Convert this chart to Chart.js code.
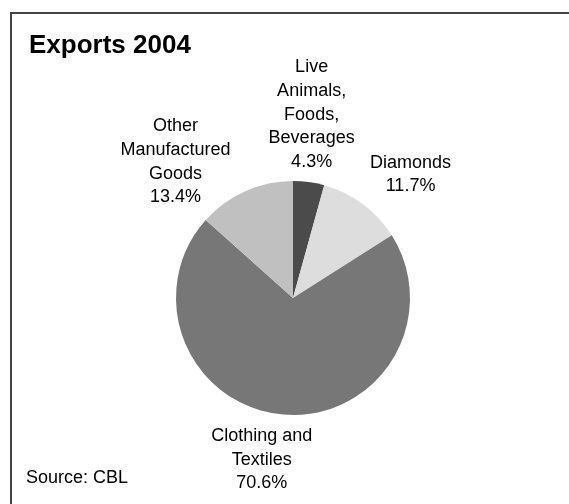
<!DOCTYPE html>
<html>
<head>
<meta charset="utf-8">
<title>Exports 2004</title>
<script src="https://cdn.jsdelivr.net/npm/chart.js@4/dist/chart.umd.min.js"></script>
<style>
  html, body { margin: 0; padding: 0; background: #fff; }
  #wrap { position: relative; width: 569px; height: 504px; }
</style>
</head>
<body>
<div id="wrap"><canvas id="exportsChart"></canvas></div>
<script>
// export categories (label lines) and their share of total, in percent
const categories = [
  ['Live', 'Animals,', 'Foods,', 'Beverages'],
  ['Diamonds'],
  ['Clothing and', 'Textiles'],
  ['Other', 'Manufactured', 'Goods']
];
const shares = [4.3, 11.7, 70.6, 13.4];

const titleText = 'Exports 2004';
const sourceText = 'Source: CBL';

const sliceColors = ['#4b4b4b', '#dddddd', '#777777', '#c0c0c0'];
const FONT = '"Liberation Sans", Arial, Helvetica, sans-serif';

// small manual shifts so the outside labels sit where Excel put them
const labelNudge = [[-4, -1], [19, -4], [-17, 2], [-44, 21]];

const frameAndText = {
  id: 'frameAndText',
  afterDraw(chart) {
    const ctx = chart.ctx;
    ctx.save();
    // frame, open to the right and bottom
    ctx.strokeStyle = '#444';
    ctx.lineWidth = 2;
    ctx.beginPath();
    ctx.moveTo(11, chart.height + 5);
    ctx.lineTo(11, 13);
    ctx.lineTo(chart.width + 5, 13);
    ctx.stroke();

    ctx.fillStyle = '#000';
    ctx.textAlign = 'left';
    ctx.textBaseline = 'alphabetic';
    ctx.font = 'bold 26px ' + FONT;
    ctx.fillText(titleText, 29, 53);
    ctx.font = '18px ' + FONT;
    ctx.textBaseline = 'middle';
    ctx.fillText(sourceText, 26, 478);
    ctx.restore();
  }
};

const pieLabels = {
  id: 'pieLabels',
  afterDatasetsDraw(chart) {
    const ctx = chart.ctx;
    const meta = chart.getDatasetMeta(0);
    const lineH = 23.6;
    ctx.save();
    ctx.font = '18px ' + FONT;
    ctx.fillStyle = '#000';
    ctx.textAlign = 'center';
    ctx.textBaseline = 'middle';
    meta.data.forEach((arc, i) => {
      const lines = categories[i].concat(shares[i].toFixed(1) + '%');
      const mid = (arc.startAngle + arc.endAngle) / 2;
      const r = arc.outerRadius + 8;
      const ax = arc.x + Math.cos(mid) * r;
      const ay = arc.y + Math.sin(mid) * r;
      const w = Math.max(...lines.map(t => ctx.measureText(t).width));
      const h = lines.length * lineH;
      const cx = ax + Math.cos(mid) * w / 2 + labelNudge[i][0];
      const cy = ay + Math.sin(mid) * h / 2 + labelNudge[i][1];
      lines.forEach((t, k) => {
        ctx.fillText(t, cx, cy - h / 2 + lineH * (k + 0.5));
      });
    });
    ctx.restore();
  }
};

new Chart(document.getElementById('exportsChart'), {
  type: 'pie',
  data: {
    labels: categories.map(c => c.join(' ')),
    datasets: [{
      data: shares,
      backgroundColor: sliceColors,
      borderWidth: 0
    }]
  },
  options: {
    responsive: true,
    maintainAspectRatio: false,
    animation: false,
    layout: {
      padding: { left: 176, right: 159, top: 181, bottom: 89 }
    },
    plugins: {
      legend: { display: false },
      tooltip: { enabled: false }
    }
  },
  plugins: [pieLabels, frameAndText]
});
</script>
</body>
</html>
